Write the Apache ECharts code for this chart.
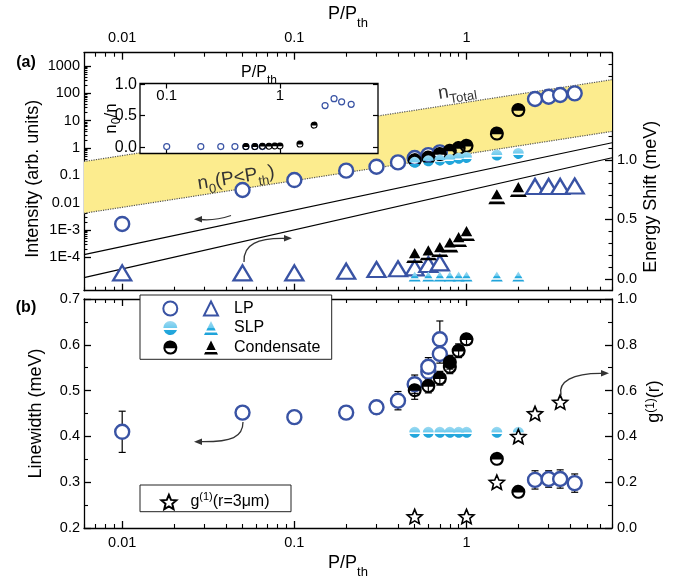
<!DOCTYPE html>
<html><head><meta charset="utf-8">
<script src="https://cdn.jsdelivr.net/npm/echarts@6/dist/echarts.min.js"></script>
<style>html,body{margin:0;padding:0;background:#fff}#c{width:674px;height:580px}</style>
</head><body><div id="c"></div>
<script>
// ---------------- data ----------------
const lpP = [0.01, 0.05, 0.1, 0.2, 0.3, 0.4, 0.5, 0.6, 0.7, 2.5, 3, 3.5, 4.25];
const lpIntensity = [0.00166, 0.029, 0.067, 0.148, 0.207, 0.297, 0.43, 0.55, 0.69, 62, 75, 87, 100];
const lpShift = [0.05, 0.05, 0.05, 0.064, 0.078, 0.084, 0.092, 0.12, 0.134, 0.776, 0.776, 0.776, 0.78];
const condP = [0.5, 0.6, 0.7, 0.8, 0.9, 1, 1.5, 2];
const condIntensity = [0.36, 0.45, 0.6, 0.8, 1.0, 1.21, 3.4, 24.6];
const condShift = [0.195, 0.218, 0.246, 0.285, 0.33, 0.38, 0.69, 0.75];
const slpP = [0.5, 0.6, 0.7, 0.8, 0.9, 1, 1.5, 2];
const slpIntensity = [0.30, 0.34, 0.36, 0.38, 0.42, 0.45, 0.55, 0.63];
const slpShift = [0.02, 0.02, 0.02, 0.02, 0.02, 0.02, 0.02, 0.02];

const insetLpP = [0.1, 0.2, 0.3, 0.4, 0.5, 0.6, 0.7, 2.5, 3, 3.5, 4.25];
const insetLp = [0.01, 0.01, 0.01, 0.01, 0.01, 0.01, 0.01, 0.66, 0.77, 0.72, 0.68];
const insetCondP = [0.5, 0.6, 0.7, 0.8, 0.9, 1, 1.5, 2];
const insetCond = [0.01, 0.01, 0.015, 0.015, 0.02, 0.02, 0.05, 0.35];

const bandP = [0.006, 7];
const bandUpper = [0.32, 316];
const bandLower = [0.0041, 4.05];
const breakP = [0.006, 7];
const breakUpper = [1.25e-4, 1.56];
const breakLower = [1.8e-5, 0.44];

const lwLpP = [0.01, 0.05, 0.1, 0.2, 0.3, 0.4, 0.5, 0.6, 0.6, 0.7, 0.7, 2.5, 3, 3.5, 4.25];
const lwLp = [0.41, 0.452, 0.442, 0.452, 0.4635, 0.478, 0.514, 0.541, 0.552, 0.58, 0.612, 0.305, 0.307, 0.307, 0.298];
const lwLpErr = [0.045, 0.004, 0.004, 0.008, 0.014, 0.02, 0.02, 0.02, 0.02, 0.02, 0.04, 0.02, 0.018, 0.02, 0.02];
const lwCondP = [0.5, 0.6, 0.7, 0.8, 0.8, 0.9, 1, 1.5, 2];
const lwCond = [0.501, 0.51, 0.527, 0.552, 0.562, 0.587, 0.612, 0.351, 0.279];
const lwCondErr = [0.02, 0.015, 0.015, 0.015, 0.015, 0.015, 0.012, 0, 0];
const lwSlpP = [0.5, 0.6, 0.7, 0.8, 0.9, 1, 1.5, 2];
const lwSlp = [0.409, 0.409, 0.409, 0.409, 0.409, 0.409, 0.409, 0.409];
const g1P = [0.5, 1, 1.5, 2, 2.5, 3.5];
const g1 = [0.05, 0.05, 0.2, 0.4, 0.5, 0.55];

const xMajorTicks = [0.01, 0.1, 1];
const intensityTicks = [1e-4, 1e-3, 0.01, 0.1, 1, 10, 100, 1000];
const shiftTicks = [0, 0.5, 1];
const insetXTicks = [0.1, 1];
const insetYTicks = [0, 0.5, 1];

// ---------------- styling ----------------
const FONT = '"Liberation Sans", Arial, Helvetica, sans-serif';
const BLUE = '#3953a4';
const CYAN = {type:'linear', x:0, y:0, x2:0, y2:1, colorStops:[
  {offset:0, color:'#9fdaf1'}, {offset:0.5, color:'#6ccaee'}, {offset:0.51, color:'#27acdf'}, {offset:1, color:'#1ea2d9'}]};
const HALF_CIRCLE = 'path://M-0.995,0.1A1,1,0,1,1,0.995,0.1Z M-0.995,0.1A1,1,0,0,0,0.995,0.1L0.693,0.1A0.7,0.7,0,0,1,-0.693,0.1Z';
const CYAN_CIRCLE = 'path://M-1,0A1,1,0,0,1,1,0Z M-0.954,0.3L0.954,0.3A1,1,0,0,1,-0.954,0.3Z';
const TRI_OPEN = 'path://M0,-1L1,1L-1,1Z';
const TRI_HALF = 'path://M0,-1L0.675,0.35L-0.675,0.35Z M-0.825,0.65L0.825,0.65L1,1L-1,1Z';
let starPath = 'path://';
for (let i = 0; i < 10; i++) {
  const a = (-90 + i * 36) * Math.PI / 180, r = i % 2 ? 0.45 : 1;
  starPath += (i ? 'L' : 'M') + (r * Math.cos(a)).toFixed(3) + ',' + (r * Math.sin(a)).toFixed(3);
}
starPath += 'Z';

const minorX = [];
[0.001, 0.01, 0.1, 1].forEach(d => { for (let k = 2; k <= 9; k++) { const v = +(k * d).toPrecision(3); if (v >= 0.006 && v <= 7) minorX.push(v); } });
const minorInt = [];
[1e-4, 1e-3, 1e-2, 0.1, 1, 10, 100].forEach(d => { for (let k = 2; k <= 9; k++) minorInt.push(+(k * d).toPrecision(3)); });
const minorShift = [];
for (let k = -1; k <= 19; k++) if (k % 5 !== 0) minorShift.push(k / 10);

const lab = (size) => ({show:true, color:'#000', fontSize:size || 14.5, fontFamily:FONT});
const blackLine = {show:true, onZero:false, lineStyle:{color:'#000', width:1.3}};
const noLine = {show:false, onZero:false};
const fmtLog = v => {
  const e = Math.round(Math.log10(v));
  if (e >= 0) return String(Math.round(Math.pow(10, e)));
  return Math.pow(10, e).toFixed(-e);
};
const fmtInt = v => {
  const e = Math.round(Math.log10(v));
  if (e <= -3) return '1E' + e;
  return fmtLog(v);
};
const pairs = (xs, ys) => xs.map((x, i) => [x, ys[i]]);
const subRich = (main, sub, lh) => ({
  m:{fontSize:main, lineHeight:lh, fontFamily:FONT, color:'#000'},
  s:{fontSize:sub, lineHeight:sub, verticalAlign:'bottom', fontFamily:FONT, color:'#000'}
});

function xLog(grid, pos, min, max, extra) {
  return Object.assign({type:'log', logBase:10, gridIndex:grid, position:pos, min:min, max:max,
    splitLine:{show:false}, axisLine:noLine, axisLabel:{show:false}, axisTick:{show:false}}, extra);
}
function majorXTicks(len) { return {show:true, inside:true, length:len || 7, customValues:xMajorTicks, lineStyle:{color:'#000', width:1.3}}; }
function minorTicks(vals, len) { return {show:true, inside:true, length:len || 4, customValues:vals, lineStyle:{color:'#000', width:1.1}}; }

const errRender = (params, api) => {
  const x = api.value(0), y = api.value(1), e = api.value(2);
  if (!e) return;
  const t = api.coord([x, y + e]), b = api.coord([x, y - e]);
  const cw = 3.5, st = {stroke:'#000', lineWidth:1.2};
  return {type:'group', children:[
    {type:'line', shape:{x1:t[0], y1:t[1], x2:b[0], y2:b[1]}, style:st},
    {type:'line', shape:{x1:t[0]-cw, y1:t[1], x2:t[0]+cw, y2:t[1]}, style:st},
    {type:'line', shape:{x1:b[0]-cw, y1:b[1], x2:b[0]+cw, y2:b[1]}, style:st}
  ]};
};

const chart = echarts.init(document.getElementById('c'), null, {renderer:'canvas'});

const xAxis = [
  // 0 top panel bottom
  xLog(0, 'bottom', 0.006, 7, {axisLine:blackLine, axisTick:majorXTicks()}),
  // 1 top panel top (labels + name)
  xLog(0, 'top', 0.006, 7, {axisLine:blackLine, axisTick:majorXTicks(),
    axisLabel:Object.assign(lab(), {customValues:xMajorTicks, formatter:fmtLog, margin:7}),
    name:'{m|P/P}{s|th}', nameLocation:'middle', nameGap:19,
    nameTextStyle:{rich:subRich(18, 13, 32)}}),
  // 2,3 minor ticks top panel
  xLog(0, 'bottom', 0.006, 7, {axisTick:minorTicks(minorX)}),
  xLog(0, 'top', 0.006, 7, {axisTick:minorTicks(minorX)}),
  // 4 bottom panel bottom (labels + name)
  xLog(1, 'bottom', 0.006, 7, {axisLine:blackLine, axisTick:majorXTicks(),
    axisLabel:Object.assign(lab(), {customValues:xMajorTicks, formatter:fmtLog, margin:7}),
    name:'{m|P/P}{s|th}', nameLocation:'middle', nameGap:19,
    nameTextStyle:{rich:subRich(18, 13, 32)}}),
  // 5 bottom panel top
  xLog(1, 'top', 0.006, 7, {axisLine:blackLine, axisTick:majorXTicks()}),
  // 6,7 minor bottom panel
  xLog(1, 'bottom', 0.006, 7, {axisTick:minorTicks(minorX)}),
  xLog(1, 'top', 0.006, 7, {axisTick:minorTicks(minorX)}),
  // 8 inset top
  xLog(2, 'top', 0.0581, 7.33, {z:6, axisTick:{show:true, inside:true, length:5, customValues:insetXTicks, lineStyle:{color:'#000', width:1.2}},
    axisLabel:Object.assign(lab(15), {customValues:insetXTicks, formatter:fmtLog, inside:true, margin:5}),
    name:'{m|P/P}{s|th}', nameLocation:'middle', nameGap:-3.5, nameMoveOverlap:false,
    nameTextStyle:{rich:subRich(16, 12, 28)}}),
  // 9 inset bottom
  xLog(2, 'bottom', 0.0581, 7.33, {z:6, axisTick:{show:true, inside:true, length:5, customValues:insetXTicks, lineStyle:{color:'#000', width:1.2}}})
];

const yAxis = [
  // 0 intensity (log) left
  {type:'log', logBase:10, gridIndex:0, position:'left', min:6e-6, max:3067, splitLine:{show:false},
    axisLine:blackLine, axisTick:{show:true, inside:true, length:7, customValues:intensityTicks, lineStyle:{color:'#000', width:1.3}},
    axisLabel:Object.assign(lab(), {customValues:intensityTicks, formatter:fmtInt, margin:4}),
    name:'Intensity (arb. units)', nameLocation:'middle', nameGap:42, nameMoveOverlap:false,
    nameTextStyle:{fontSize:18, lineHeight:18, color:'#000', fontFamily:FONT, padding:[0, 14, 0, 0]}},
  // 1 energy shift right
  {type:'value', gridIndex:0, position:'right', min:-0.1, max:1.9, splitLine:{show:false},
    axisLine:blackLine, axisTick:{show:true, inside:true, length:7, customValues:shiftTicks, lineStyle:{color:'#000', width:1.3}},
    axisLabel:Object.assign(lab(), {customValues:shiftTicks, formatter:v => v.toFixed(1), margin:5}),
    name:'Energy Shift (meV)', nameLocation:'middle', nameGap:30, nameMoveOverlap:false,
    nameTextStyle:{fontSize:18, lineHeight:18, color:'#000', fontFamily:FONT, padding:[0, 50, 0, 0]}},
  // 2 intensity minor ticks
  {type:'log', logBase:10, gridIndex:0, position:'left', min:6e-6, max:3067, splitLine:{show:false},
    axisLine:noLine, axisLabel:{show:false}, axisTick:minorTicks(minorInt, 3.5)},
  // 3 energy minor ticks
  {type:'value', gridIndex:0, position:'right', min:-0.1, max:1.9, splitLine:{show:false},
    axisLine:noLine, axisLabel:{show:false}, axisTick:minorTicks(minorShift, 3.5)},
  // 4 linewidth left
  {type:'value', gridIndex:1, position:'left', min:0.2, max:0.7, interval:0.1, splitLine:{show:false},
    axisLine:blackLine, axisTick:{show:true, inside:true, length:7, lineStyle:{color:'#000', width:1.3}},
    minorTick:{show:true, splitNumber:2, length:4, lineStyle:{color:'#000', width:1.1}},
    axisLabel:Object.assign(lab(), {formatter:v => v.toFixed(1), margin:4}),
    name:'Linewidth (meV)', nameLocation:'middle', nameGap:39, nameMoveOverlap:false,
    nameTextStyle:{fontSize:18, lineHeight:18, color:'#000', fontFamily:FONT}},
  // 5 g1 right
  {type:'value', gridIndex:1, position:'right', min:0, max:1, interval:0.2, splitLine:{show:false},
    axisLine:blackLine, axisTick:{show:true, inside:true, length:7, lineStyle:{color:'#000', width:1.3}},
    minorTick:{show:true, splitNumber:2, length:4, lineStyle:{color:'#000', width:1.1}},
    axisLabel:Object.assign(lab(), {formatter:v => v.toFixed(1), margin:5}),
    name:'g{p|(1)}(r)', nameLocation:'middle', nameGap:33, nameMoveOverlap:false,
    nameTextStyle:{fontSize:18, lineHeight:18, color:'#000', fontFamily:FONT, padding:[0, 0, 0, 24],
      rich:{p:{fontSize:12, verticalAlign:'top', lineHeight:12, fontFamily:FONT, color:'#000'}}}},
  // 6 inset left
  {type:'value', gridIndex:2, position:'left', min:-0.1, max:1.01, z:6, splitLine:{show:false},
    axisLine:noLine, axisTick:{show:true, inside:true, length:5, customValues:insetYTicks, lineStyle:{color:'#000', width:1.2}},
    axisLabel:Object.assign(lab(16), {customValues:insetYTicks, formatter:v => v.toFixed(1), margin:3}),
    name:'n{s|0}/n', nameLocation:'middle', nameGap:17, nameMoveOverlap:false,
    nameTextStyle:{fontSize:17, color:'#000', fontFamily:FONT, lineHeight:24,
      rich:{s:{fontSize:12, lineHeight:12, verticalAlign:'bottom', fontFamily:FONT, color:'#000'}}}},
  // 7 inset right
  {type:'value', gridIndex:2, position:'right', min:-0.1, max:1.01, z:6, splitLine:{show:false},
    axisLine:noLine, axisLabel:{show:false},
    axisTick:{show:true, inside:true, length:5, customValues:insetYTicks, lineStyle:{color:'#000', width:1.2}}}
];

const series = [
  {type:'custom', name:'band', xAxisIndex:0, yAxisIndex:0, silent:true, z:1,
    data:bandP.map((p, i) => [p, bandLower[i], bandUpper[i]]), encode:{x:0, y:[1, 2]},
    renderItem:(params, api) => {
      if (params.dataIndex !== 0) return;
      const pts = [];
      for (let i = 0; i < bandP.length; i++) pts.push(api.coord([bandP[i], bandUpper[i]]));
      for (let i = bandP.length - 1; i >= 0; i--) pts.push(api.coord([bandP[i], bandLower[i]]));
      return {type:'polygon', shape:{points:pts}, style:{fill:'#fcec8e'}};
    }},
  {type:'line', name:'nTotal', xAxisIndex:0, yAxisIndex:0, data:pairs(bandP, bandUpper), symbol:'none', silent:true, z:2,
    lineStyle:{type:'dotted', color:'#555', width:1.2}},
  {type:'line', name:'n0', xAxisIndex:0, yAxisIndex:0, data:pairs(bandP, bandLower), symbol:'none', silent:true, z:2,
    lineStyle:{type:'dotted', color:'#555', width:1.2}},
  {type:'line', name:'break1', xAxisIndex:0, yAxisIndex:0, data:pairs(breakP, breakUpper), symbol:'none', silent:true, z:2,
    lineStyle:{color:'#000', width:1.1}},
  {type:'line', name:'break2', xAxisIndex:0, yAxisIndex:0, data:pairs(breakP, breakLower), symbol:'none', silent:true, z:2,
    lineStyle:{color:'#000', width:1.1}},
  // intensity
  {type:'scatter', name:'LP', xAxisIndex:0, yAxisIndex:0, data:pairs(lpP, lpIntensity), symbol:'circle', symbolSize:14, z:3,
    itemStyle:{color:'#fff', borderColor:BLUE, borderWidth:2.4, opacity:1}},
  {type:'scatter', name:'Condensate', xAxisIndex:0, yAxisIndex:0, data:pairs(condP, condIntensity), symbol:HALF_CIRCLE, symbolSize:14, z:4,
    itemStyle:{color:'#000', opacity:1}},
  {type:'scatter', name:'SLP', xAxisIndex:0, yAxisIndex:0, data:pairs(slpP, slpIntensity), symbol:CYAN_CIRCLE, symbolSize:11, z:5,
    itemStyle:{color:CYAN, opacity:1}},
  // energy shift
  {type:'scatter', name:'LP shift', xAxisIndex:0, yAxisIndex:1, data:pairs(lpP, lpShift), symbol:TRI_OPEN, symbolSize:[18, 15], z:3,
    itemStyle:{color:'#fff', borderColor:BLUE, borderWidth:2.3, opacity:1}},
  {type:'scatter', name:'Condensate shift', xAxisIndex:0, yAxisIndex:1, data:pairs(condP, condShift), symbol:TRI_HALF, symbolSize:[17, 15], z:4,
    itemStyle:{color:'#000', opacity:1}},
  {type:'scatter', name:'SLP shift', xAxisIndex:0, yAxisIndex:1, data:pairs(slpP, slpShift), symbol:TRI_HALF, symbolSize:[12, 10], z:5,
    itemStyle:{color:CYAN, opacity:1}},
  // inset
  {type:'scatter', name:'inset LP', xAxisIndex:8, yAxisIndex:6, data:pairs(insetLpP, insetLp), symbol:'circle', symbolSize:6, z:7,
    itemStyle:{color:'#fff', borderColor:BLUE, borderWidth:1.2, opacity:1}},
  {type:'scatter', name:'inset Cond', xAxisIndex:8, yAxisIndex:6, data:pairs(insetCondP, insetCond), symbol:HALF_CIRCLE, symbolSize:7, z:8,
    itemStyle:{color:'#000', opacity:1}},
  // linewidth panel
  {type:'custom', name:'LP err', xAxisIndex:4, yAxisIndex:4, z:2, silent:true,
    data:lwLpP.map((p, i) => [p, lwLp[i], lwLpErr[i]]), encode:{x:0, y:1}, renderItem:errRender},
  {type:'custom', name:'Cond err', xAxisIndex:4, yAxisIndex:4, z:2, silent:true,
    data:lwCondP.map((p, i) => [p, lwCond[i], lwCondErr[i]]), encode:{x:0, y:1}, renderItem:errRender},
  {type:'scatter', name:'LP linewidth', xAxisIndex:4, yAxisIndex:4, data:pairs(lwLpP, lwLp), symbol:'circle', symbolSize:14, z:3,
    itemStyle:{color:'#fff', borderColor:BLUE, borderWidth:2.4, opacity:1}},
  {type:'scatter', name:'Condensate linewidth', xAxisIndex:4, yAxisIndex:4, data:pairs(lwCondP, lwCond), symbol:HALF_CIRCLE, symbolSize:14, z:4,
    itemStyle:{color:'#000', opacity:1}},
  {type:'scatter', name:'SLP linewidth', xAxisIndex:4, yAxisIndex:4, data:pairs(lwSlpP, lwSlp), symbol:CYAN_CIRCLE, symbolSize:11, z:5,
    itemStyle:{color:CYAN, opacity:1}},
  {type:'scatter', name:'g1', xAxisIndex:4, yAxisIndex:5, data:pairs(g1P, g1), symbol:starPath, symbolSize:15, symbolKeepAspect:true, z:6,
    itemStyle:{color:'#fff', borderColor:'#000', borderWidth:1.6, opacity:1}}
];

const legendNames = {'LP shift':'LP', 'SLP shift':'SLP', 'Condensate shift':'Condensate'};
const legend = [
  {data:['LP', 'SLP', 'Condensate'], orient:'vertical', left:162.3, top:300.5, padding:0, itemWidth:14, itemHeight:14, itemGap:3.5,
    selectedMode:false, formatter:() => ' ', textStyle:{fontSize:16, fontFamily:FONT, color:'#000'}, z:6},
  {data:['LP shift', 'SLP shift', 'Condensate shift'], orient:'vertical', left:203, top:300.5, padding:0, itemWidth:14, itemHeight:14, itemGap:3.5,
    selectedMode:false, formatter:n => legendNames[n], textStyle:{fontSize:16, fontFamily:FONT, color:'#000', padding:[0, 0, 0, 11]}, z:6},
  {data:['g1'], left:160.4, top:491, padding:0, itemWidth:15, itemHeight:15, selectedMode:false,
    formatter:() => 'g{p|(1)}(r=3μm)',
    textStyle:{fontSize:16, fontFamily:FONT, color:'#000', lineHeight:22, padding:[0, 0, 0, 9],
      rich:{p:{fontSize:11, lineHeight:11, verticalAlign:'top', fontFamily:FONT, color:'#000'}}}, z:6}
];

function arrowHead(x, y, dir) {
  const L = 8, W = 3.2;
  return dir === 'left' ? [[x, y], [x + L, y - W], [x + L, y + W]] : [[x, y], [x - L, y - W], [x - L, y + W]];
}
const arrowStyle = {stroke:'#333', lineWidth:1.3, fill:null};
const graphic = [
  {type:'rect', z:3, shape:{x:140, y:295, width:191.7, height:64.3}, style:{fill:'#fff', stroke:'#222', lineWidth:1}},
  {type:'rect', z:3, shape:{x:140, y:485, width:151, height:26.7}, style:{fill:'#fff', stroke:'#222', lineWidth:1}},
  {type:'text', z:10, x:26, y:63, style:{text:'(a)', font:'bold 16px ' + FONT, fill:'#000', align:'center', verticalAlign:'middle'}},
  {type:'text', z:10, x:26, y:308, style:{text:'(b)', font:'bold 16px ' + FONT, fill:'#000', align:'center', verticalAlign:'middle'}},
  {type:'text', z:10, x:457, y:91, rotation:0.155, style:{text:'{m|n}{s|Total}', align:'center', verticalAlign:'middle',
    rich:{m:{fontSize:19, lineHeight:28, fontFamily:FONT, fill:'#333'}, s:{fontSize:13, lineHeight:13, verticalAlign:'bottom', fontFamily:FONT, fill:'#333'}}}},
  {type:'text', z:10, x:236, y:178, rotation:0.157, style:{text:'{m|n}{s|0}{m|(P<P}{s|th}{m|)}', align:'center', verticalAlign:'middle',
    rich:{m:{fontSize:19, lineHeight:28, fontFamily:FONT, fill:'#333'}, s:{fontSize:13, lineHeight:13, verticalAlign:'bottom', fontFamily:FONT, fill:'#333'}}}},
  // arrows
  {type:'bezierCurve', z:10, shape:{x1:231, y1:215.5, x2:201, y2:219.5, cpx1:214, cpy1:221}, style:arrowStyle},
  {type:'polygon', z:10, shape:{points:arrowHead(194, 219.3, 'left')}, style:{fill:'#333'}},
  {type:'bezierCurve', z:10, shape:{x1:244, y1:262, x2:285, y2:238.5, cpx1:243, cpy1:244, cpx2:258, cpy2:238}, style:arrowStyle},
  {type:'polygon', z:10, shape:{points:arrowHead(292, 238.3, 'right')}, style:{fill:'#333'}},
  {type:'bezierCurve', z:10, shape:{x1:243, y1:422, x2:201, y2:441.7, cpx1:243, cpy1:437, cpx2:232, cpy2:442}, style:arrowStyle},
  {type:'polygon', z:10, shape:{points:arrowHead(194, 441.7, 'left')}, style:{fill:'#333'}},
  {type:'bezierCurve', z:10, shape:{x1:561, y1:395, x2:602, y2:373.3, cpx1:558, cpy1:382, cpx2:572, cpy2:373}, style:arrowStyle},
  {type:'polygon', z:10, shape:{points:arrowHead(609, 373.3, 'right')}, style:{fill:'#333'}}
];

chart.setOption({
  animation:false,
  backgroundColor:'#fff',
  textStyle:{fontFamily:FONT},
  grid:[
    {left:84, top:52.7, width:528, height:238},
    {left:84, top:299, width:528, height:229},
    {left:140, top:83.5, width:238, height:70, show:true, backgroundColor:'#fff', borderColor:'#000', borderWidth:1.3, z:5}
  ],
  xAxis:xAxis, yAxis:yAxis, series:series, legend:legend, graphic:graphic
});
</script></body></html>
